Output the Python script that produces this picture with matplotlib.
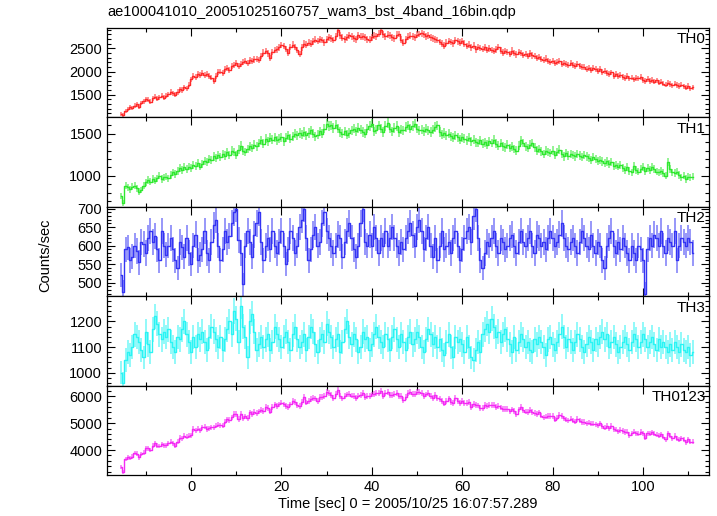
import numpy as np
import matplotlib
matplotlib.use("Agg")
import matplotlib.pyplot as plt
from matplotlib.ticker import MultipleLocator

plt.rcParams['font.family'] = ['Liberation Sans', 'DejaVu Sans']

# bin grid: 0.5 s bins, first bin centre at -15.5 s
t_start = -15.5
dt = 0.5

th0 = [1090, 1060, 1150, 1190, 1230, 1210, 1260, 1290, 1240, 1320,
       1360, 1400, 1390, 1350, 1420, 1460, 1410, 1440, 1480, 1430,
       1480, 1510, 1560, 1530, 1500, 1560, 1620, 1600, 1660, 1640,
       1720, 1830, 1910, 1880, 1940, 1920, 1960, 1930, 1950, 1910,
       1870, 1800, 1900, 1990, 2000, 1970, 2050, 2080, 2040, 2110,
       2140, 2180, 2110, 2160, 2200, 2230, 2180, 2240, 2220, 2260,
       2270, 2250, 2330, 2410, 2440, 2390, 2300, 2420, 2460, 2480,
       2520, 2570, 2550, 2490, 2410, 2530, 2580, 2530, 2470, 2380,
       2520, 2600, 2580, 2620, 2600, 2650, 2690, 2660, 2700, 2680,
       2630, 2700, 2740, 2720, 2680, 2760, 2900, 2780, 2730, 2700,
       2740, 2780, 2760, 2720, 2700, 2780, 2750, 2760, 2740, 2700,
       2690, 2740, 2770, 2760, 2820, 2900, 2800, 2760, 2790, 2780,
       2740, 2720, 2790, 2810, 2690, 2620, 2700, 2750, 2770, 2760,
       2740, 2790, 2810, 2830, 2800, 2760, 2780, 2740, 2720, 2700,
       2680, 2640, 2600, 2560, 2620, 2660, 2640, 2610, 2680, 2650,
       2620, 2660, 2600, 2550, 2580, 2520, 2560, 2480, 2530, 2510,
       2490, 2520, 2470, 2500, 2460, 2440, 2480, 2530, 2450, 2410,
       2440, 2420, 2380, 2450, 2400, 2370, 2420, 2400, 2360, 2380,
       2340, 2390, 2350, 2330, 2300, 2320, 2270, 2250, 2280, 2230,
       2210, 2230, 2190, 2200, 2220, 2170, 2190, 2160, 2150, 2180,
       2140, 2110, 2160, 2120, 2090, 2100, 2060, 2080, 2040, 2070,
       2050, 2020, 2060, 1990, 2010, 1970, 1950, 1980, 1910, 1940,
       1900, 1930, 1880, 1860, 1900, 1850, 1870, 1830, 1860, 1850,
       1880, 1820, 1800, 1840, 1790, 1820, 1780, 1810, 1760, 1780,
       1740, 1720, 1760, 1730, 1700, 1740, 1710, 1690, 1720, 1680,
       1650, 1690, 1640, 1660]

th1 = [760, 680, 880, 860, 840, 870, 880, 850, 810, 830,
       880, 920, 950, 930, 960, 940, 970, 1000, 960, 980,
       990, 970, 1010, 1040, 1020, 1060, 1090, 1070, 1100, 1080,
       1110, 1090, 1130, 1120, 1150, 1110, 1140, 1180, 1160, 1200,
       1190, 1230, 1210, 1250, 1220, 1260, 1240, 1280, 1250, 1300,
       1280, 1250, 1310, 1360, 1300, 1280, 1320, 1350, 1330, 1370,
       1350, 1390, 1420, 1380, 1440, 1410, 1450, 1430, 1460, 1420,
       1440, 1460, 1410, 1450, 1480, 1440, 1470, 1500, 1480, 1510,
       1490, 1520, 1480, 1510, 1540, 1500, 1470, 1490, 1530, 1500,
       1560, 1620, 1590, 1600, 1570, 1610, 1560, 1520, 1500, 1530,
       1490, 1510, 1540, 1560, 1530, 1570, 1550, 1520, 1500, 1560,
       1590, 1620, 1530, 1550, 1600, 1560, 1520, 1590, 1630, 1560,
       1530, 1570, 1590, 1520, 1550, 1540, 1580, 1600, 1560, 1590,
       1620, 1560, 1540, 1550, 1530, 1560, 1540, 1520, 1550, 1580,
       1600, 1520, 1490, 1510, 1480, 1500, 1470, 1450, 1480, 1460,
       1430, 1460, 1440, 1420, 1450, 1410, 1430, 1400, 1390, 1420,
       1380, 1400, 1370, 1410, 1390, 1430, 1380, 1360, 1390, 1350,
       1340, 1370, 1330, 1350, 1320, 1300, 1360, 1420, 1390, 1350,
       1330, 1370, 1390, 1340, 1300, 1320, 1290, 1260, 1300, 1280,
       1270, 1300, 1250, 1280, 1310, 1260, 1230, 1270, 1240, 1260,
       1250, 1230, 1260, 1240, 1220, 1250, 1230, 1210, 1190, 1220,
       1200, 1180, 1190, 1170, 1150, 1170, 1140, 1160, 1120, 1130,
       1110, 1130, 1090, 1070, 1100, 1060, 1040, 1120, 1070, 1050,
       1080, 1100, 1060, 1090, 1070, 1100, 1080, 1050, 1040, 1060,
       1030, 1000, 1160, 1080, 1040, 1030, 1050, 1010, 980, 1000,
       960, 990, 980, 990]

th2 = [520, 475, 590, 595, 560, 570, 600, 585, 555, 610,
       605, 580, 620, 640, 610, 625, 590, 560, 640, 600,
       575, 600, 620, 590, 560, 540, 610, 595, 570, 620,
       580, 550, 600, 630, 560, 575, 590, 640, 580, 560,
       610, 655, 670, 600, 560, 590, 640, 610, 625, 660,
       690, 700, 615, 580, 495, 600, 640, 610, 570, 630,
       660, 690, 610, 560, 600, 620, 590, 640, 600, 580,
       610, 640, 600, 550, 590, 640, 620, 580, 600, 650,
       670, 700, 620, 560, 590, 630, 650, 600, 610, 660,
       690, 640, 620, 600, 580, 600, 630, 620, 570, 610,
       640, 660, 620, 590, 570, 600, 660, 700, 610, 600,
       630, 600, 650, 620, 580, 620, 600, 640, 600, 620,
       650, 620, 600, 580, 610, 590, 620, 640, 660, 630,
       600, 650, 670, 640, 590, 620, 650, 600, 570, 620,
       560, 600, 640, 590, 600, 610, 580, 620, 640, 600,
       560, 590, 620, 640, 650, 610, 680, 700, 620, 560,
       540, 580, 610, 600, 620, 640, 600, 580, 620, 610,
       590, 600, 620, 630, 600, 580, 610, 640, 610, 600,
       620, 640, 600, 580, 630, 620, 600, 610, 590, 620,
       640, 620, 600, 610, 630, 660, 620, 600, 590, 610,
       620, 600, 580, 610, 640, 620, 600, 590, 630, 600,
       580, 610, 600, 560, 540, 600, 620, 640, 600, 580,
       610, 590, 620, 600, 580, 560, 600, 580, 560, 600,
       590, 560, 470, 590, 620, 600, 630, 620, 600, 640,
       600, 580, 620, 610, 600, 640, 560, 600, 620, 610,
       600, 620, 610, 580]

th3 = [1000, 960, 1050, 1080, 1070, 1100, 1150, 1140, 1120, 1090,
       1060, 1160, 1110, 1080, 1170, 1220, 1190, 1150, 1130, 1160,
       1140, 1170, 1120, 1100, 1080, 1140, 1130, 1170, 1200, 1150,
       1120, 1080, 1140, 1100, 1150, 1130, 1160, 1120, 1090, 1140,
       1180, 1160, 1130, 1100, 1140, 1090, 1130, 1170, 1200, 1150,
       1240, 1210, 1120, 1260, 1180, 1140, 1060, 1200, 1230, 1160,
       1090, 1110, 1140, 1100, 1130, 1150, 1090, 1120, 1180, 1150,
       1130, 1100, 1140, 1160, 1120, 1090, 1150, 1180, 1130, 1100,
       1120, 1150, 1090, 1140, 1180, 1160, 1110, 1080, 1130, 1150,
       1120, 1190, 1160, 1140, 1100, 1130, 1150, 1080, 1120, 1170,
       1200, 1140, 1110, 1150, 1130, 1080, 1100, 1160, 1130, 1140,
       1090, 1110, 1150, 1180, 1140, 1120, 1100, 1150, 1130, 1090,
       1140, 1170, 1130, 1100, 1150, 1120, 1090, 1140, 1160, 1110,
       1130, 1160, 1140, 1100, 1080, 1130, 1170, 1150, 1110, 1140,
       1100, 1130, 1090, 1070, 1120, 1150, 1100, 1060, 1140, 1120,
       1130, 1110, 1080, 1140, 1100, 1060, 1050, 1090, 1120, 1080,
       1150, 1170, 1190, 1160, 1210, 1180, 1140, 1160, 1120, 1150,
       1170, 1130, 1110, 1080, 1140, 1090, 1120, 1150, 1130, 1100,
       1120, 1090, 1080, 1130, 1110, 1140, 1120, 1100, 1070, 1130,
       1140, 1110, 1090, 1120, 1150, 1180, 1140, 1100, 1130, 1120,
       1090, 1120, 1150, 1130, 1100, 1080, 1110, 1140, 1120, 1090,
       1130, 1110, 1140, 1160, 1130, 1150, 1100, 1120, 1140, 1110,
       1080, 1100, 1120, 1140, 1110, 1090, 1120, 1150, 1130, 1100,
       1120, 1150, 1130, 1100, 1120, 1140, 1110, 1090, 1130, 1100,
       1120, 1100, 1080, 1110, 1090, 1120, 1100, 1080, 1110, 1090,
       1080, 1100, 1070, 1080]

n = min(len(th0), len(th1), len(th2), len(th3))
bands = [np.array(b[:n], dtype=float) for b in (th0, th1, th2, th3)]
bands.append(sum(bands))  # TH0123 is the sum of the four bands
t = t_start + dt * np.arange(n)

labels = ["TH0", "TH1", "TH2", "TH3", "TH0123"]
colors = ["#ff2a2a", "#2ee82e", "#3434f4", "#2af4f4", "#f42af4"]
ylims = [(1010, 2940), (630, 1695), (463, 705), (950, 1298), (3070, 6400)]
majors = [500, 500, 50, 100, 1000]
minors = [100, 100, 10, 20, 200]

fig = plt.figure(figsize=(7.17, 5.16), dpi=100)
left, right, top, bottom = 107/717, 709/717, 1 - 28/516, 1 - 475/516
h = (top - bottom) / 5

axes = []
for k in range(5):
    ax = fig.add_axes([left, top - (k + 1) * h, right - left, h])
    y = bands[k]
    err = np.sqrt(y / dt)
    c = colors[k]
    ax.errorbar(t, y, yerr=err, fmt='none', ecolor=c, elinewidth=1.2, alpha=0.6)
    ax.plot(t, y, drawstyle='steps-mid', color=c, lw=1.0)
    ax.set_xlim(-18.6, 114.6)
    ax.set_ylim(*ylims[k])
    ax.xaxis.set_major_locator(MultipleLocator(20))
    ax.xaxis.set_minor_locator(MultipleLocator(10))
    ax.yaxis.set_major_locator(MultipleLocator(majors[k]))
    ax.yaxis.set_minor_locator(MultipleLocator(minors[k]))
    ax.tick_params(which='both', direction='in', top=True, right=True,
                   labelsize=10.5, width=0.8)
    ax.tick_params(which='major', length=6)
    ax.tick_params(which='minor', length=3)
    for s in ax.spines.values():
        s.set_linewidth(0.9)
    if k < 4:
        ax.tick_params(labelbottom=False)
    ax.text(0.995, 0.95, labels[k], transform=ax.transAxes, ha='right', va='top',
            fontsize=11)
    axes.append(ax)

fig.text(left, 1 - 12/516, "ae100041010_20051025160757_wam3_bst_4band_16bin.qdp",
         ha='left', va='center', fontsize=10.5)
axes[4].set_xlabel("Time [sec] 0 = 2005/10/25 16:07:57.289", fontsize=10.5, labelpad=2)
fig.text(0.063, 0.506, "Counts/sec", rotation=90, ha='center', va='center', fontsize=10.5)

fig.savefig("out.png", dpi=100)
